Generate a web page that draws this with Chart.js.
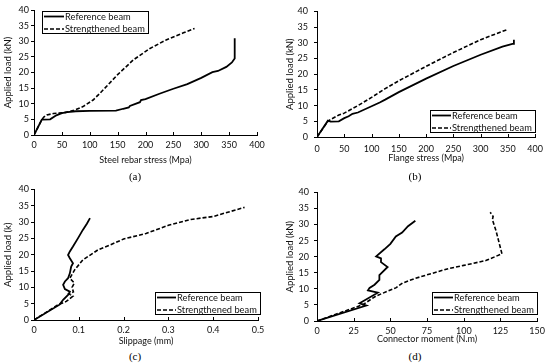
<!DOCTYPE html>
<html lang="en">
<head>
<meta charset="UTF-8">
<title>Load response of reference and strengthened beams</title>
<script src="https://cdn.jsdelivr.net/npm/chart.js"></script>
<style>
  body { margin: 0; background: #fff; width: 550px; height: 364px; position: relative; overflow: hidden; }
  canvas { position: absolute; }
  .cap { position: absolute; font-family: "Liberation Serif", serif; font-size: 11px; color: #000; transform: translate(-50%, -50%); }
</style>
</head>
<body>
<canvas id="ca" width="275" height="165" style="left:0;top:0"></canvas>
<canvas id="cb" width="275" height="163" style="left:275px;top:0"></canvas>
<canvas id="cc" width="275" height="164" style="left:0;top:182px"></canvas>
<canvas id="cd" width="275" height="162" style="left:275px;top:182px"></canvas>
<div class="cap" style="left:135px;top:176px">(a)</div>
<div class="cap" style="left:415px;top:176px">(b)</div>
<div class="cap" style="left:135px;top:356px">(c)</div>
<div class="cap" style="left:415px;top:356px">(d)</div>
<script>
// (a) steel rebar stress
const aRefX = [0, 14, 29, 40, 50, 60, 75, 100, 147, 160, 170, 172, 190, 192, 200, 225, 250, 275, 300, 320, 330, 345, 355, 360, 360];
const aRefY = [0, 4.9, 5.0, 6.3, 7.0, 7.3, 7.6, 7.7, 7.8, 8.4, 8.8, 9.3, 10.5, 11.2, 11.5, 13.2, 14.8, 16.3, 18.3, 20.1, 20.5, 21.8, 23.2, 24.5, 31];
const aStrX = [0, 14, 18, 23, 35, 53, 70, 88, 106, 118, 125, 150, 178, 208, 238, 268, 288];
const aStrY = [0, 4.9, 5.8, 6.4, 6.9, 7.1, 7.8, 9.1, 11.2, 13.3, 14.6, 19.3, 24, 27.7, 30.5, 32.7, 34.1];
// (b) flange stress
const bRefX = [0, 20, 25, 40, 50, 58, 65, 75, 100, 115, 125, 150, 200, 250, 300, 340, 360, 361];
const bRefY = [0, 5.2, 4.9, 5.0, 6.0, 6.6, 7.4, 7.8, 9.8, 11, 11.9, 14.3, 18.6, 22.6, 26.2, 28.8, 29.7, 31];
const bStrX = [0, 20, 25, 40, 50, 75, 100, 125, 150, 200, 250, 300, 350];
const bStrY = [0, 5.0, 5.6, 7.0, 7.6, 10.0, 12.6, 15.4, 17.9, 22.5, 26.9, 31.0, 34.3];
// (c) slippage
const cRefX = [0, 0.057, 0.065, 0.076, 0.080, 0.069, 0.065, 0.069, 0.076, 0.080, 0.083, 0.087, 0.080, 0.076, 0.080, 0.087, 0.098, 0.109, 0.118, 0.125];
const cRefY = [0, 4.7, 6.2, 7.7, 8.7, 9.5, 10.8, 11.8, 12.8, 14.3, 16.4, 17.4, 18.9, 19.9, 21.0, 22.5, 25.0, 27.6, 29.5, 31.2];
const cStrX = [0, 0.054, 0.072, 0.087, 0.078, 0.088, 0.085, 0.090, 0.080, 0.091, 0.109, 0.143, 0.170, 0.200, 0.250, 0.300, 0.350, 0.400, 0.470];
const cStrY = [0, 4.7, 5.7, 7.3, 8.0, 8.6, 10.0, 11.3, 12.8, 15.4, 18.4, 21.5, 23.0, 24.8, 26.5, 29.0, 30.8, 31.7, 34.5];
// (d) connector moment
const dRefX = [0, 33.6, 29, 41.4, 34.7, 35.8, 39.2, 42.5, 42.5, 48.1, 43.6, 43.6, 40.3, 45.9, 50, 53.7, 58, 62, 67];
const dRefY = [0, 4.8, 5.5, 8.8, 9.5, 10.3, 11.3, 12.8, 14.3, 16.8, 18.3, 19.5, 20.1, 22.3, 24, 26.3, 27.5, 29.5, 31.2];
const dStrX = [0, 31.3, 40.3, 53.7, 58.2, 67.2, 78.3, 89.5, 100, 115, 126, 122, 119.5, 120, 118];
const dStrY = [0, 5.1, 7.8, 10.3, 11.8, 13.3, 14.8, 16.3, 17.3, 18.8, 20.9, 28, 31.5, 32.5, 33.8];

const seriesNames = ['Reference beam', 'Strengthened beam'];

Chart.defaults.font.family = 'Lato, sans-serif';
Chart.defaults.color = '#111';

function pts(xs, ys) {
  return xs.map((x, i) => ({ x: x, y: ys[i] }));
}

// boxed legend + inward x tick marks
const boxLegend = {
  id: 'boxLegend',
  afterDraw(chart, args, o) {
    const ctx = chart.ctx, a = chart.chartArea;
    const xs = chart.scales.x;
    ctx.save();
    ctx.strokeStyle = '#000';
    ctx.lineWidth = 1;
    xs.ticks.forEach(t => {
      const px = Math.round(xs.getPixelForValue(t.value)) + 0.5;
      ctx.beginPath(); ctx.moveTo(px, a.bottom); ctx.lineTo(px, a.bottom - 3); ctx.stroke();
    });
    ctx.font = '9.3px Lato, sans-serif';
    const ds = chart.data.datasets;
    const tw = Math.max(...ds.map(d => ctx.measureText(d.label).width));
    const w = Math.round(o.sample + 3 + tw + 3), h = 22;
    const x = Math.round(o.right ? a.right - o.dx - w : a.left + o.dx) + 0.5;
    const y = Math.round(o.bottom ? a.bottom - o.dy - h : a.top + o.dy) + 0.5;
    ctx.fillStyle = '#fff';
    ctx.fillRect(x, y, w, h);
    ctx.strokeRect(x, y, w, h);
    ds.forEach((d, i) => {
      const cy = y + 5 + 12.5 * i;
      ctx.setLineDash(d.borderDash || []);
      ctx.lineWidth = d.borderWidth;
      ctx.beginPath(); ctx.moveTo(x + 1.5, cy); ctx.lineTo(x + 1.5 + o.sample, cy); ctx.stroke();
      ctx.setLineDash([]);
      ctx.fillStyle = '#111';
      ctx.textBaseline = 'middle';
      ctx.fillText(d.label, x + 2.5 + o.sample, cy);
    });
    ctx.restore();
  }
};

function makePanel(id, p) {
  new Chart(document.getElementById(id), {
    type: 'scatter',
    data: {
      datasets: [
        { label: seriesNames[0], data: pts(p.refX, p.refY), showLine: true, borderColor: '#000', borderWidth: 1.8, pointRadius: 0, tension: 0 },
        { label: seriesNames[1], data: pts(p.strX, p.strY), showLine: true, borderColor: '#000', borderWidth: 1.6, borderDash: [4, 2], pointRadius: 0, tension: 0 }
      ]
    },
    options: {
      responsive: false,
      animation: false,
      layout: { padding: { left: 0, right: p.padR, top: p.padT, bottom: 0 } },
      plugins: { legend: { display: false }, tooltip: { enabled: false }, boxLegend: p.legend },
      scales: {
        x: {
          type: 'linear', min: 0, max: p.xMax,
          ticks: { stepSize: p.xStep, padding: p.xTickPad, font: { size: 9 }, maxRotation: 0 },
          grid: { display: true, drawOnChartArea: false, drawTicks: false, color: '#000' },
          border: { color: '#000', width: 1 },
          title: { display: true, text: p.xTitle, font: { size: 9 }, padding: 0 },
          afterFit(s) { s.height = p.xAxisH; }
        },
        y: {
          min: 0, max: 40,
          ticks: { stepSize: 5, padding: p.yTickPad, font: { size: 9 } },
          grid: { display: true, drawOnChartArea: false, drawTicks: true, tickLength: 3, color: '#000' },
          border: { color: '#000', width: 1 },
          title: { display: true, text: p.yTitle, font: { size: 9.5 }, padding: { top: p.yTitlePad, bottom: 0 } },
          afterFit(s) { s.width = p.yAxisW; }
        }
      }
    },
    plugins: [boxLegend]
  });
}

makePanel('ca', {
  refX: aRefX, refY: aRefY, strX: aStrX, strY: aStrY,
  xMax: 400, xStep: 50, xTitle: 'Steel rebar stress (Mpa)', yTitle: 'Applied load (kN)',
  padR: 18, padT: 10, xAxisH: 30, yAxisW: 34, xTickPad: 5, yTickPad: 2, yTitlePad: 2,
  legend: { sample: 20, right: false, bottom: false, dx: 8, dy: 1 }
});
makePanel('cb', {
  refX: bRefX, refY: bRefY, strX: bStrX, strY: bStrY,
  xMax: 400, xStep: 50, xTitle: 'Flange stress (Mpa)', yTitle: 'Applied load (kN)',
  padR: 10, padT: 6, xAxisH: 26, yAxisW: 42, xTickPad: 7, yTickPad: 6, yTitlePad: 9,
  legend: { sample: 19, right: true, bottom: true, dx: 0, dy: 5 }
});
makePanel('cc', {
  refX: cRefX, refY: cRefY, strX: cStrX, strY: cStrY,
  xMax: 0.5, xStep: 0.1, xTitle: 'Slippage (mm)', yTitle: 'Applied load (k)',
  padR: 17, padT: 7, xAxisH: 26, yAxisW: 34, xTickPad: 5, yTickPad: 2, yTitlePad: 2,
  legend: { sample: 19, right: true, bottom: true, dx: -2, dy: 6 }
});
makePanel('cd', {
  refX: dRefX, refY: dRefY, strX: dStrX, strY: dStrY,
  xMax: 150, xStep: 25, xTitle: 'Connector moment (N.m)', yTitle: 'Applied load (kN)',
  padR: 10, padT: 6, xAxisH: 23, yAxisW: 42, xTickPad: 5, yTickPad: 5, yTitlePad: 9,
  legend: { sample: 19, right: true, bottom: true, dx: 0, dy: 7 }
});
</script>
</body>
</html>
